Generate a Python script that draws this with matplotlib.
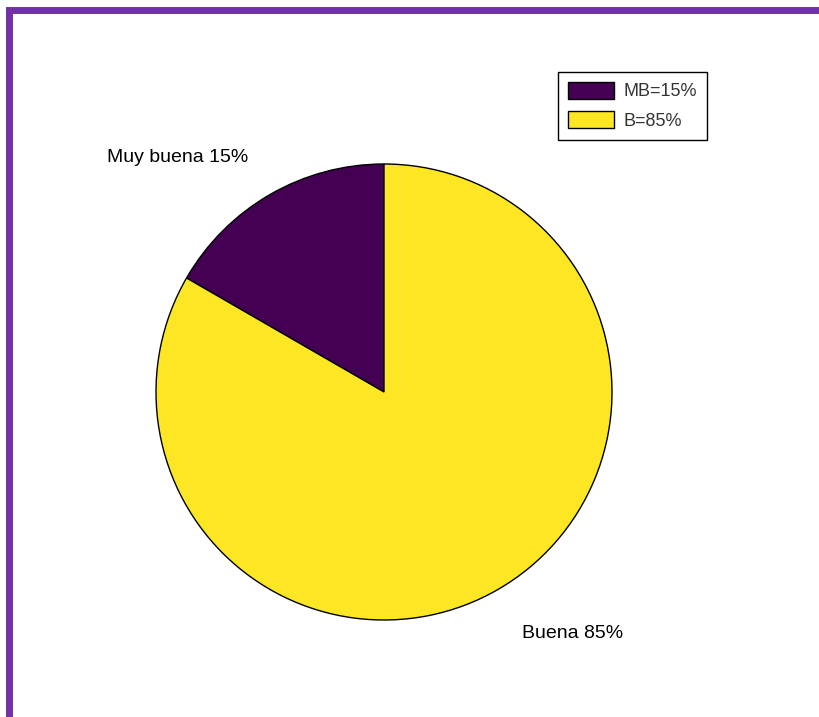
import numpy as np
import matplotlib
matplotlib.use("Agg")
import matplotlib.pyplot as plt
from matplotlib.patches import Rectangle

# --- datos ---
categorias = ["Muy buena", "Buena"]
etiquetas = ["Muy buena 15%", "Buena 85%"]
leyenda = ["MB=15%", "B=85%"]
valores = [1, 5]  # el sector dibujado ocupa ~1/6 del círculo
colores = ["#440154", "#fde725"]

plt.rcParams["font.family"] = ["Liberation Sans", "DejaVu Sans"]

fig = plt.figure(figsize=(8.2, 7.17), dpi=100)
W, H = 820, 717

# marco morado (solo arriba e izquierda visibles)
fig.patches.append(Rectangle((8.5 / W, -0.1), 1.2, (H - 10) / H + 0.1,
                             transform=fig.transFigure, fill=False,
                             edgecolor="#7132a6", linewidth=5, zorder=0))

# ejes: centro del pie en (384, 392) px, radio 228 px
R = 228
lim = 1.4
size = 2 * lim * R
ax = fig.add_axes([(384 - size / 2) / W, (H - 392 - size / 2) / H, size / W, size / H])

wedges, _ = ax.pie(valores, colors=colores, startangle=90, counterclock=True,
                   radius=1.0, center=(0, 0), frame=True,
                   wedgeprops=dict(edgecolor="black", linewidth=1.0))
ax.set_xlim(-lim, lim)
ax.set_ylim(-lim, lim)
ax.set_aspect("equal")
ax.axis("off")

ax.text(-0.596, 1.03, etiquetas[0], ha="right", va="center", fontsize=14)
ax.text(0.605, -1.06, etiquetas[1], ha="left", va="center", fontsize=14)

leg = ax.legend(wedges, leyenda, loc="upper left",
                bbox_to_anchor=(558 / W, 1 - 72 / H), bbox_transform=fig.transFigure,
                fontsize=13, frameon=True, fancybox=False, edgecolor="black",
                framealpha=1, handlelength=2.55, handleheight=1.05,
                borderaxespad=0, borderpad=0.55, labelspacing=0.6, handletextpad=0.55)
leg.get_frame().set_linewidth(1.0)
for t in leg.get_texts():
    t.set_color("#333333")

fig.savefig("out.png", dpi=100)
